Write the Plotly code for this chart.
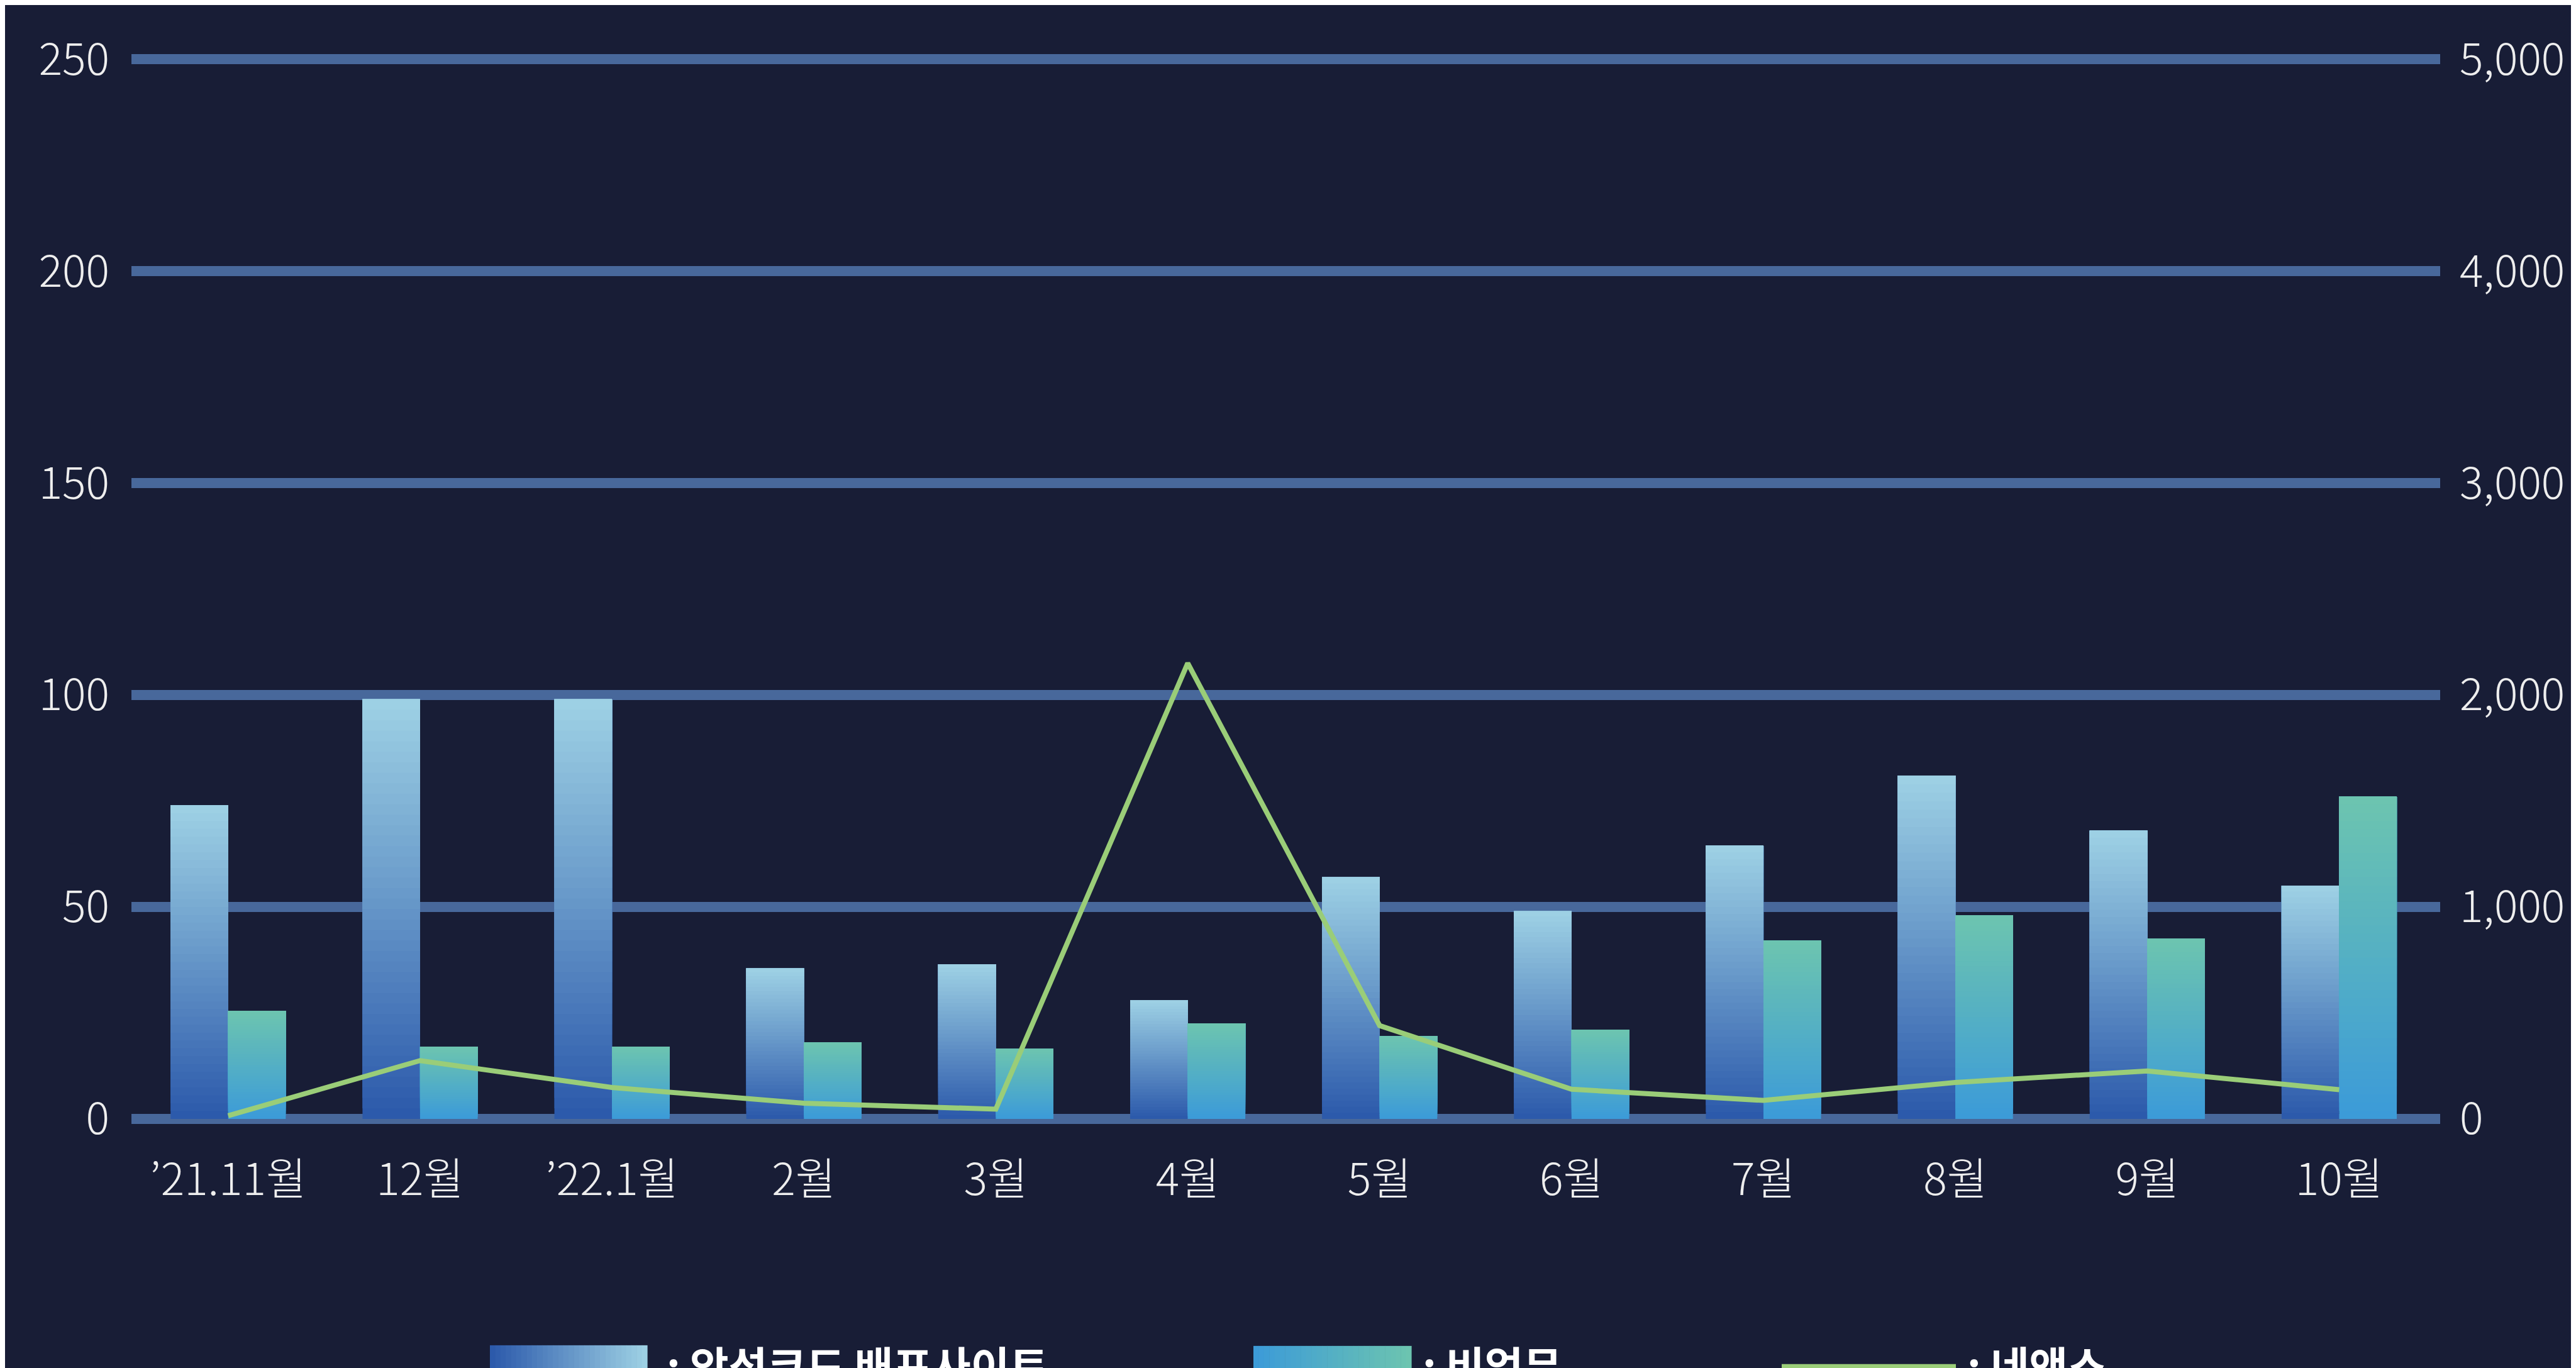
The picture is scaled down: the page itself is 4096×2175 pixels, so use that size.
import plotly.graph_objects as go

# ---------------- data ----------------
categories = ["’21.11월", "12월", "’22.1월", "2월", "3월", "4월",
              "5월", "6월", "7월", "8월", "9월", "10월"]
malware_sites = [74, 99, 99, 35.5, 36.5, 28, 57, 49, 64.5, 81, 68, 55]      # left axis
non_work = [25.5, 17, 17, 18, 16.5, 22.5, 19.5, 21, 42, 48, 42.5, 76]       # left axis
third_series = [15, 275, 148, 74, 46, 2150, 440, 140, 87, 172, 226, 138]    # right axis
left_ticks = [0, 50, 100, 150, 200, 250]
right_ticks = [0, 1000, 2000, 3000, 4000, 5000]
legend_labels = [": 악성코드 배포사이트", ": 비업무", ": 네앤스"]

# ---------------- style ----------------
W, H = 4096, 2175
BG = "#181d36"
GRID = "#48689b"
FONT = "Noto Sans CJK KR"
S1_BOTTOM, S1_TOP = (44, 90, 171), (157, 208, 228)
S2_BOTTOM, S2_TOP = (60, 155, 216), (108, 196, 176)
LINE_COLOR = "#9acd78"
N = 40

# plot area for the value range 0..250 (pixels)
ML, MR = 201, 224
Y_TOP, Y_BOT = 86, 1771          # pixel rows of 250 and 0
PAD = 1.2                        # small range padding so edge gridlines are drawn
unit = (Y_BOT - Y_TOP) / 250.0
MT = Y_TOP - PAD * unit
MB = H - Y_BOT - PAD * unit


def lerp(c0, c1, t):
    return "rgb(%d,%d,%d)" % tuple(round(a + (b - a) * t) for a, b in zip(c0, c1))


fig = go.Figure()


def gradient_bars(values, c_bottom, c_top, offset):
    for k in range(N):
        frac = k / N
        fig.add_trace(go.Bar(
            x=categories,
            y=[v * (1 - frac) for v in values],
            base=[v * frac for v in values],
            offset=offset, width=0.3,
            marker=dict(color=lerp(c_bottom, c_top, k / (N - 1)), line=dict(width=0)),
            showlegend=False, hoverinfo="skip",
        ))


gradient_bars(malware_sites, S1_BOTTOM, S1_TOP, -0.3)
gradient_bars(non_work, S2_BOTTOM, S2_TOP, 0.0)

fig.add_trace(go.Scatter(
    x=categories, y=third_series, yaxis="y2", mode="lines",
    line=dict(color=LINE_COLOR, width=8), showlegend=False, hoverinfo="skip",
))

tickfont = dict(family=FONT, size=70, color="#eeeeee", weight=300)

fig.update_layout(
    width=W, height=H,
    margin=dict(l=ML, r=MR, t=MT, b=MB, pad=0),
    paper_bgcolor=BG, plot_bgcolor=BG,
    barmode="overlay",
    showlegend=False,
    xaxis=dict(type="category", range=[-0.504, 11.526], showgrid=False,
               zeroline=False, showline=False, ticks="", tickfont=tickfont,
               ticklabelstandoff=42),
    yaxis=dict(range=[-PAD, 250 + PAD], tickvals=left_ticks, showgrid=True,
               gridcolor=GRID, gridwidth=16, zeroline=False, showline=False,
               ticks="", tickfont=tickfont, ticklabelstandoff=34),
    yaxis2=dict(range=[-PAD * 20, 5000 + PAD * 20], tickvals=right_ticks,
                tickformat=",", overlaying="y", side="right", showgrid=False,
                zeroline=False, showline=False, ticks="", tickfont=tickfont,
                ticklabelstandoff=30),
)

# ---------------- custom legend (cut off by the bottom edge, as in the source) ----------------
PW = W - ML - MR


def px_x(p):
    return (p - ML) / PW


def px_y(p):
    return (Y_BOT - p) / (Y_BOT - Y_TOP) * (250 / (250 + 2 * PAD)) + PAD / (250 + 2 * PAD)


shapes = []
M = 30


def hgrad(x0, x1, y0, y1, c_left, c_right):
    for i in range(M):
        a = x0 + (x1 - x0) * i / M
        b = x0 + (x1 - x0) * (i + 1) / M + 0.6
        shapes.append(dict(type="rect", xref="paper", yref="paper",
                           x0=px_x(a), x1=px_x(b), y0=px_y(y1), y1=px_y(y0),
                           fillcolor=lerp(c_left, c_right, i / (M - 1)),
                           line=dict(width=0), layer="above"))


hgrad(771, 1021, 2131, 2200, S1_BOTTOM, S1_TOP)
hgrad(1985, 2236, 2132, 2200, S2_BOTTOM, S2_TOP)
shapes.append(dict(type="rect", xref="paper", yref="paper",
                   x0=px_x(2825), x1=px_x(3102), y0=px_y(2200), y1=px_y(2161),
                   fillcolor=LINE_COLOR, line=dict(width=0), layer="above"))

annotations = []
for label, xp in zip(legend_labels, [1050, 2252, 3118]):
    annotations.append(dict(
        text="<b>%s</b>" % label, xref="paper", yref="paper",
        x=px_x(xp), y=px_y(2110), xanchor="left", yanchor="top",
        showarrow=False, font=dict(family=FONT, size=67, color="#ffffff"),
    ))

fig.update_layout(shapes=shapes, annotations=annotations)

fig.write_html("out.html")
